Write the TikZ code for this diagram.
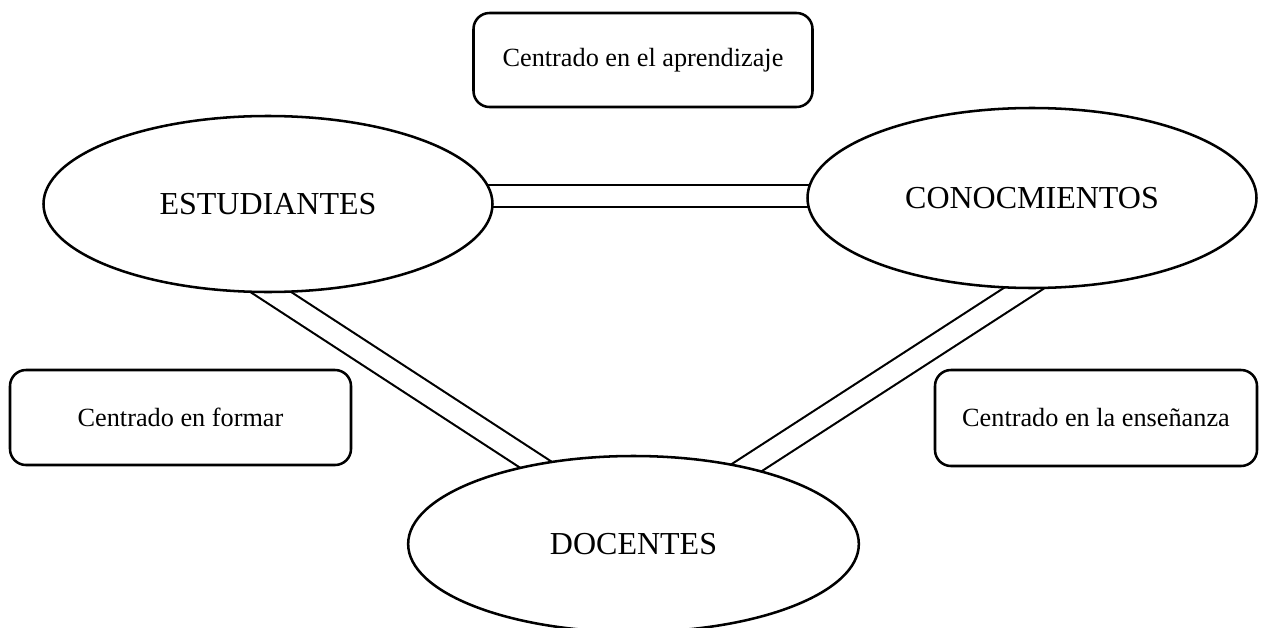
\documentclass[tikz,border=0pt]{standalone}
\usepackage{fontspec}
\setmainfont{Liberation Serif}
\usetikzlibrary{shapes.geometric,backgrounds}

\begin{document}
\begin{tikzpicture}[x=0.75pt,y=-0.75pt,
    actor/.style={draw,ellipse,line width=1.9pt,fill=white,inner sep=0pt,font=\fontsize{24}{29}\selectfont},
    focus/.style={draw,rounded corners=12pt,line width=1.9pt,fill=white,font=\fontsize{19.7}{24}\selectfont},
    link/.style={double,double distance=15pt,line width=1.6pt,shorten <=-14pt,shorten >=-14pt}]
      \useasboundingbox (0,0) rectangle (1265,628);
      \node[actor,minimum width=336.75pt,minimum height=132pt] (est) at (268,204) {ESTUDIANTES};
      \node[actor,minimum width=336.75pt,minimum height=135pt] (con) at (1032,198) {CONOCMIENTOS};
      \node[actor,minimum width=338pt,minimum height=132pt] (doc) at (633.5,544) {DOCENTES};
      \node[focus,minimum width=254.25pt,minimum height=70.5pt] (apr) at (643,60) {Centrado en el aprendizaje};
      \node[focus,minimum width=255.75pt,minimum height=71.25pt] (for) at (180.5,417.5) {Centrado en formar};
      \node[focus,minimum width=241.5pt,minimum height=72pt] (ens) at (1096,418) {Centrado en la enseñanza};

      \begin{pgfonlayer}{background}
        \draw[link] (est.2) -- (est.2 -| con.west);
        \draw[link] (est.-87) -- (doc.141);
        \draw[link] (con.-96) -- (doc.34);
      \end{pgfonlayer}
\end{tikzpicture}
\end{document}
